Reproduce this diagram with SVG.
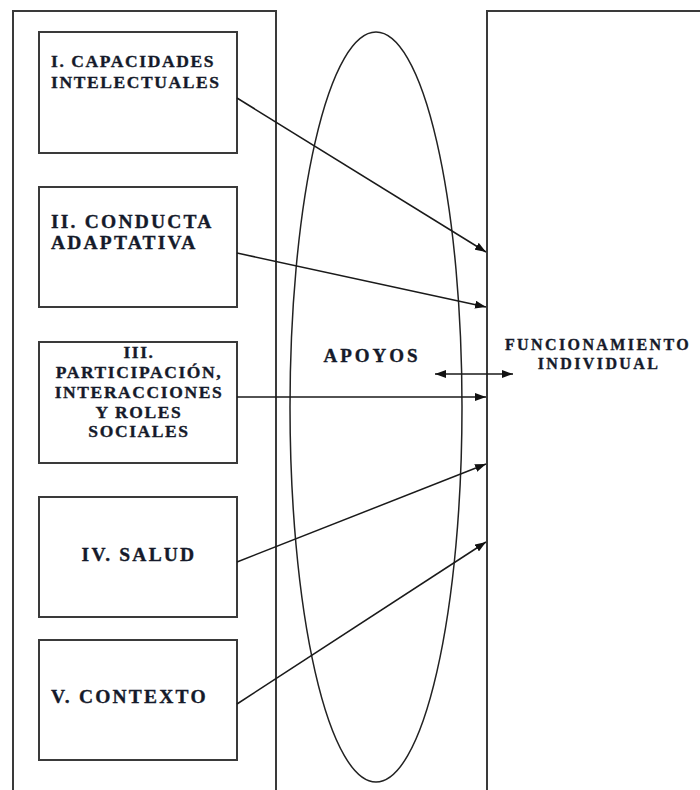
<svg xmlns="http://www.w3.org/2000/svg" width="700" height="790" viewBox="0 0 700 790">
<style>
.frame{fill:none;stroke:#3a3a3a;stroke-width:2}
.box{fill:#fff;stroke:#3a3a3a;stroke-width:2}
.conn{fill:none;stroke:#1a1a1a;stroke-width:1.5}
.t{font-family:"Liberation Serif","Times New Roman",serif;font-weight:bold;fill:#151a2a;stroke:#151a2a;stroke-width:0.35}
.s17{font-size:17.5px;letter-spacing:1.6px}
.s16{font-size:16px;letter-spacing:2.4px}
.s19{font-size:19.5px;letter-spacing:2.2px}
.ap{font-size:19px;letter-spacing:3px}
</style>
<defs>
<marker id="ah" viewBox="0 0 10 10" refX="10" refY="5" markerWidth="11" markerHeight="8" markerUnits="userSpaceOnUse" orient="auto-start-reverse" preserveAspectRatio="none">
<path d="M0,0 L10,5 L0,10 z" fill="#111"/>
</marker>
</defs>
<rect width="700" height="790" fill="#fff"/>
<g id="dimensiones">
<rect class="frame" x="13" y="11" width="263" height="800"/>
</g>
<g id="funcionamiento">
<rect class="frame" x="487" y="11" width="240" height="800"/>
<text class="t s16" x="598" y="350" text-anchor="middle">FUNCIONAMIENTO</text>
<text class="t s16" x="599" y="369" text-anchor="middle">INDIVIDUAL</text>
</g>
<g id="apoyos">
<ellipse cx="376" cy="407" rx="86" ry="375" fill="none" stroke="#222" stroke-width="1.5"/>
<text class="t ap" x="372" y="362" text-anchor="middle">APOYOS</text>
</g>
<g id="n1">
<rect class="box" x="39" y="32" width="198" height="121"/>
<text class="t s17" x="51" y="67">I. CAPACIDADES</text>
<text class="t s17" x="51" y="88">INTELECTUALES</text>
</g>
<g id="n2">
<rect class="box" x="39" y="187" width="198" height="120"/>
<text class="t s19" x="51" y="228">II. CONDUCTA</text>
<text class="t s19" x="51" y="249">ADAPTATIVA</text>
</g>
<g id="n3">
<rect class="box" x="39" y="342" width="198" height="121"/>
<text class="t s17" text-anchor="middle" x="139" y="358">III.</text>
<text class="t s17" text-anchor="middle" x="139" y="378">PARTICIPACIÓN,</text>
<text class="t s17" text-anchor="middle" x="139" y="398">INTERACCIONES</text>
<text class="t s17" text-anchor="middle" x="139" y="418">Y ROLES</text>
<text class="t s17" text-anchor="middle" x="139" y="437">SOCIALES</text>
</g>
<g id="n4">
<rect class="box" x="39" y="497" width="198" height="120"/>
<text class="t s19" text-anchor="middle" x="139" y="561">IV. SALUD</text>
</g>
<g id="n5">
<rect class="box" x="39" y="640" width="198" height="120"/>
<text class="t s19" x="51" y="703">V. CONTEXTO</text>
</g>
<g id="connectors">
<line class="conn" x1="237" y1="98" x2="486" y2="252" marker-end="url(#ah)"/>
<line class="conn" x1="237" y1="253" x2="486" y2="307" marker-end="url(#ah)"/>
<line class="conn" x1="237" y1="397" x2="486" y2="397" marker-end="url(#ah)"/>
<line class="conn" x1="237" y1="562" x2="486" y2="464" marker-end="url(#ah)"/>
<line class="conn" x1="237" y1="704" x2="486" y2="542" marker-end="url(#ah)"/>
<line class="conn" x1="435" y1="374" x2="513" y2="374" marker-start="url(#ah)" marker-end="url(#ah)"/>
</g>
</svg>
